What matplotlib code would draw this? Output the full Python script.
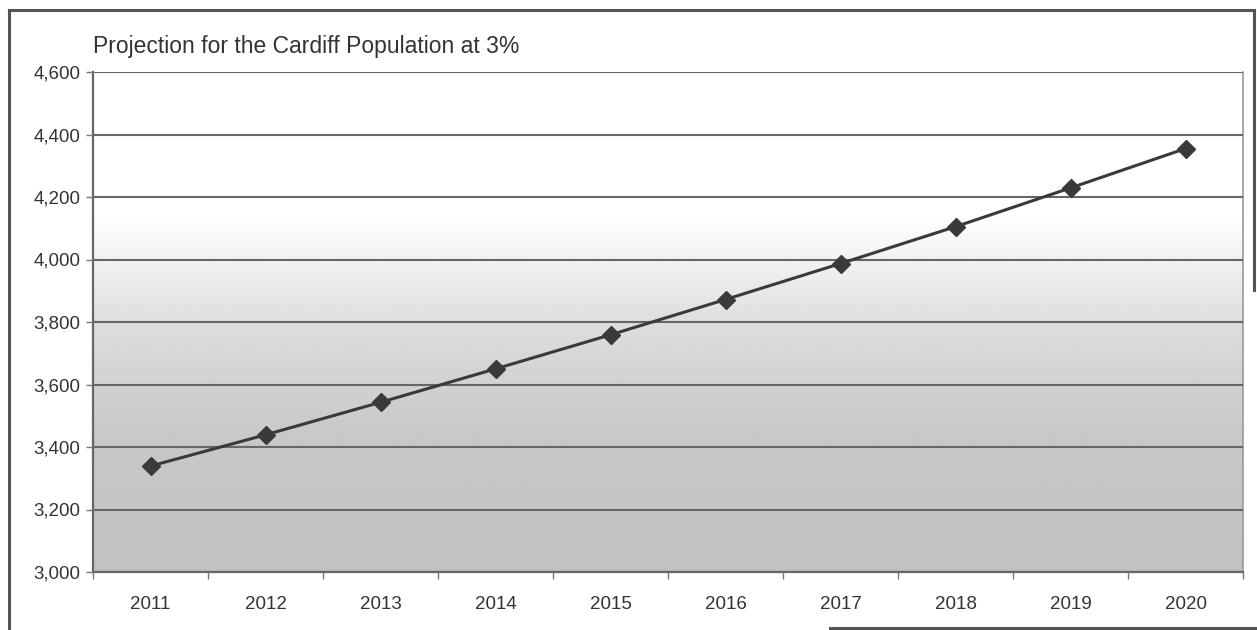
import numpy as np
import matplotlib
matplotlib.use("Agg")
import matplotlib.pyplot as plt
from matplotlib.lines import Line2D

years = ["2011", "2012", "2013", "2014", "2015", "2016", "2017", "2018", "2019", "2020"]
population = [3339, 3439, 3543, 3650, 3759, 3872, 3987, 4105, 4229, 4355]
y_ticks = [3000, 3200, 3400, 3600, 3800, 4000, 4200, 4400, 4600]
title = "Projection for the Cardiff Population at 3%"

plt.rcParams['font.family'] = ['Liberation Sans', 'DejaVu Sans']
txt = "#333333"

fig = plt.figure(figsize=(12.57, 6.3), dpi=100)
fig.patch.set_facecolor("white")
ax = fig.add_axes([93/1257, 1 - 572/630, (1243 - 93)/1257, (572 - 72)/630])

# background gradient (white at top, grey at bottom)
gv = np.array([3000, 3400, 3600, 3800, 4000, 4150, 4600])
gc = np.array([0.76, 0.78, 0.82, 0.87, 0.95, 1.0, 1.0])
yy = np.linspace(3000, 4600, 400)
shade = np.interp(yy, gv, gc)[:, None]
ax.imshow(np.repeat(shade, 2, axis=1), cmap="gray", vmin=0, vmax=1,
          extent=[-0.5, len(years) - 0.5, 3000, 4600], origin="lower",
          aspect="auto", zorder=0, interpolation="bilinear")

x = np.arange(len(years))
ax.plot(x, population, color="#3a3a3a", lw=2.2, marker="D", markersize=9,
        markerfacecolor="#3a3a3a", markeredgecolor="#3a3a3a", zorder=3)

ax.set_xlim(-0.5, len(years) - 0.5)
ax.set_ylim(3000, 4600)
ax.set_yticks(y_ticks)
ax.set_yticklabels([f"{v:,}" for v in y_ticks])
ax.yaxis.grid(True, color="#666666", lw=1.5, zorder=1)
ax.set_axisbelow(False)
for gl in ax.get_ygridlines():
    gl.set_zorder(1)

ax.set_xticks(x)
ax.set_xticklabels(years)
ax.set_xticks(np.arange(len(years) + 1) - 0.5, minor=True)
ax.tick_params(axis="x", which="major", length=0, pad=17, labelsize=13.5, labelcolor=txt)
ax.tick_params(axis="x", which="minor", length=5, width=1, color="#777777", direction="out")
ax.tick_params(axis="y", length=5, width=1, color="#777777", labelsize=13.5, labelcolor=txt, pad=4)

for s in ["left", "bottom"]:
    ax.spines[s].set_color("#666666")
    ax.spines[s].set_linewidth(1.6)
ax.spines["right"].set_color("#999999")
ax.spines["right"].set_linewidth(1.2)
ax.spines["top"].set_visible(False)

fig.text(93/1257, 1 - 53/630, title, fontsize=16.5, color=txt, ha="left", va="baseline")

# outer frame of the scanned chart
fc = "#555555"
fig.add_artist(Line2D([9/1257, 9/1257], [0, 1 - 10/630], color=fc, lw=2.2, transform=fig.transFigure))
fig.add_artist(Line2D([9/1257, 1254/1257], [1 - 10/630, 1 - 10/630], color=fc, lw=2.2, transform=fig.transFigure))
fig.add_artist(Line2D([1254/1257, 1254/1257], [1 - 10/630, 1 - 290/630], color=fc, lw=2.2, transform=fig.transFigure))
fig.add_artist(Line2D([830/1257, 1], [1 - 628/630, 1 - 628/630], color=fc, lw=2.2, transform=fig.transFigure))

fig.savefig("out.png", dpi=100, facecolor="white")
